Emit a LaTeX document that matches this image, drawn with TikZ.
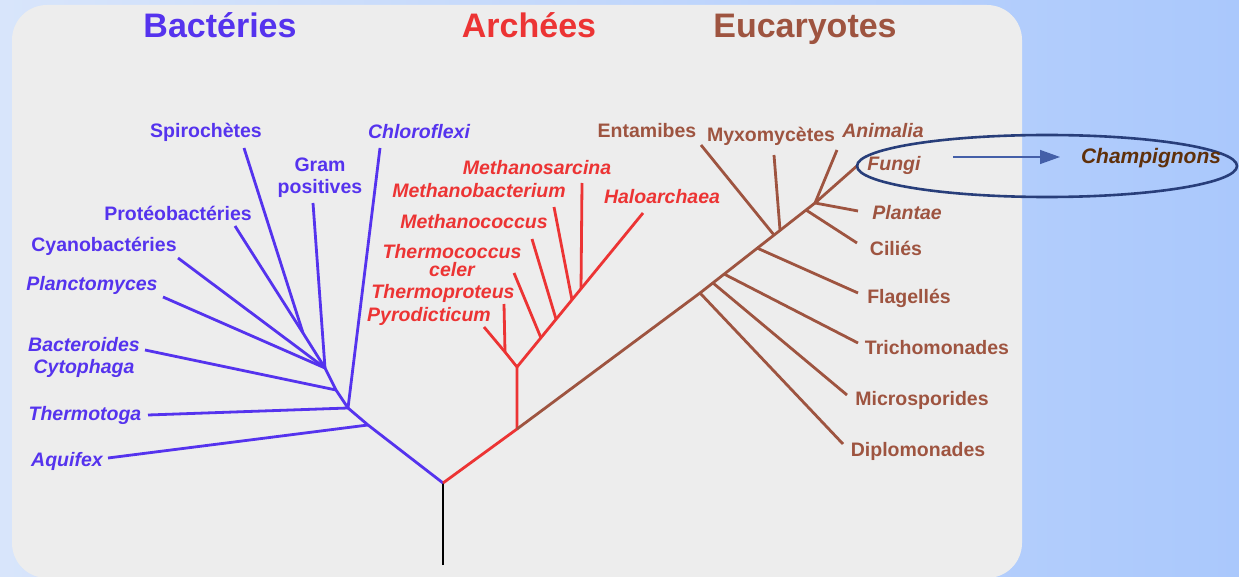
\documentclass[tikz,border=0pt]{standalone}
\usepackage{fontspec}
\setmainfont{Liberation Sans}
\usetikzlibrary{arrows.meta,shapes.geometric}
\definecolor{bactblue}{RGB}{85,51,238}
\definecolor{archred}{RGB}{236,52,52}
\definecolor{eucabrown}{RGB}{158,84,64}
\definecolor{panelgray}{RGB}{237,237,237}
\definecolor{bgleft}{RGB}{216,229,251}
\definecolor{bgright}{RGB}{170,200,252}
\definecolor{ringblue}{RGB}{40,62,122}
\definecolor{arrowblue}{RGB}{68,95,168}
\definecolor{champbrown}{RGB}{95,48,10}
\newcommand\labfont{\fontsize{19.5}{22}\selectfont\bfseries}

\begin{document}
\begin{tikzpicture}[x=1pt,y=-1pt,
  bactline/.style={draw=bactblue,line width=2.8pt},
  archline/.style={draw=archred,line width=2.8pt},
  eucaline/.style={draw=eucabrown,line width=2.8pt},
  lab/.style={font=\labfont,inner sep=0pt,align=center},
  itlab/.style={lab,font=\labfont\itshape},
  title/.style={font=\fontsize{34}{36}\selectfont\bfseries,inner sep=0pt,anchor=base}]
\useasboundingbox (0,0) rectangle (1239,577);
\shade[left color=bgleft,right color=bgright] (0,0) rectangle (1239,577);
\path[fill=panelgray,draw=none,rounded corners=35pt] (12,5) rectangle (1022,578);
\node[title,text=bactblue] (title-bact) at (220,38) {Bactéries};
\node[title,text=archred] (title-arch) at (529,38) {Archées};
\node[title,text=eucabrown] (title-euca) at (805,38) {Eucaryotes};
\coordinate (root-0) at (443,565);
\coordinate (root-1) at (443,483);
\draw[line width=2.8pt] (root-0) -- (root-1);
\coordinate (bact-j-0) at (368,425);
\coordinate (bact-j-1) at (348,408);
\coordinate (bact-j-2) at (336,390);
\coordinate (bact-j-3) at (325,368);
\coordinate (bact-j-4) at (303,333);
\coordinate (bact-t-0) at (108,458);
\coordinate (bact-t-1) at (148,415);
\coordinate (bact-t-2) at (380,148);
\coordinate (bact-t-3) at (145,350);
\coordinate (bact-t-4) at (163,297);
\coordinate (bact-t-5) at (178,258);
\coordinate (bact-t-6) at (235,226);
\coordinate (bact-t-7) at (313,203);
\coordinate (bact-t-8) at (244,148);
\draw[bactline] (root-1) -- (bact-j-0) -- (bact-j-1) -- (bact-j-2) -- (bact-j-3) -- (bact-j-4) -- (bact-t-6);
\draw[bactline] (bact-j-0) -- (bact-t-0);
\draw[bactline] (bact-j-1) -- (bact-t-1);
\draw[bactline] (bact-j-1) -- (bact-t-2);
\draw[bactline] (bact-j-2) -- (bact-t-3);
\draw[bactline] (bact-j-3) -- (bact-t-4);
\draw[bactline] (bact-j-3) -- (bact-t-5);
\draw[bactline] (bact-j-3) -- (bact-t-7);
\draw[bactline] (bact-j-4) -- (bact-t-8);
\node[itlab,text=bactblue] (bact-l-0) at (67,461) {Aquifex};
\node[itlab,text=bactblue] (bact-l-1) at (85,415) {Thermotoga};
\node[itlab,text=bactblue] (bact-l-2) at (419,132) {Chloroflexi};
\node[itlab,text=bactblue] (bact-l-3) at (84,357) {Bacteroides\\Cytophaga};
\node[itlab,text=bactblue] (bact-l-4) at (92,285) {Planctomyces};
\node[lab,text=bactblue] (bact-l-5) at (104,246) {Cyanobactéries};
\node[lab,text=bactblue] (bact-l-6) at (178,213) {Protéobactéries};
\node[lab,text=bactblue] (bact-l-7) at (320,178) {Gram\\positives};
\node[lab,text=bactblue] (bact-l-8) at (206,132) {Spirochètes};
\coordinate (arch-j-0) at (517,429);
\coordinate (arch-j-1) at (517,367);
\coordinate (arch-j-2) at (505,352);
\coordinate (arch-j-3) at (541,338);
\coordinate (arch-j-4) at (556,319);
\coordinate (arch-j-5) at (572,300);
\coordinate (arch-j-6) at (581,289);
\coordinate (arch-t-0) at (484,327);
\coordinate (arch-t-1) at (504,304);
\coordinate (arch-t-2) at (514,273);
\coordinate (arch-t-3) at (532,239);
\coordinate (arch-t-4) at (554,207);
\coordinate (arch-t-5) at (582,183);
\coordinate (arch-t-6) at (643,213);
\draw[archline] (root-1) -- (arch-j-0) -- (arch-j-1) -- (arch-j-2) -- (arch-t-0);
\draw[archline] (arch-j-2) -- (arch-t-1);
\draw[archline] (arch-j-1) -- (arch-t-6);
\draw[archline] (arch-j-3) -- (arch-t-2);
\draw[archline] (arch-j-4) -- (arch-t-3);
\draw[archline] (arch-j-5) -- (arch-t-4);
\draw[archline] (arch-j-6) -- (arch-t-5);
\node[itlab,text=archred] (arch-l-0) at (429,316) {Pyrodicticum};
\node[itlab,text=archred] (arch-l-1) at (443,293) {Thermoproteus};
\node[itlab,text=archred,font=\fontsize{19.5}{18}\selectfont\bfseries\itshape] (arch-l-2) at (452,261) {Thermococcus\\celer};
\node[itlab,text=archred] (arch-l-3) at (474,222) {Methanococcus};
\node[itlab,text=archred] (arch-l-4) at (479,191) {Methanobacterium};
\node[itlab,text=archred] (arch-l-5) at (537,168) {Methanosarcina};
\node[itlab,text=archred] (arch-l-6) at (662,197) {Haloarchaea};
\coordinate (euca-j-0) at (700,293);
\coordinate (euca-j-1) at (713,283);
\coordinate (euca-j-2) at (724,274);
\coordinate (euca-j-3) at (757,248);
\coordinate (euca-j-4) at (774,235);
\coordinate (euca-j-5) at (780,230);
\coordinate (euca-j-6) at (806,210);
\coordinate (euca-j-7) at (815,203);
\coordinate (euca-t-0) at (843,444);
\coordinate (euca-t-1) at (847,395);
\coordinate (euca-t-2) at (858,343);
\coordinate (euca-t-3) at (858,293);
\coordinate (euca-t-4) at (701,145);
\coordinate (euca-t-5) at (774,155);
\coordinate (euca-t-6) at (857,243);
\coordinate (euca-t-7) at (858,211);
\coordinate (euca-t-8) at (837,150);
\coordinate (euca-t-9) at (858,165);
\draw[eucaline] (arch-j-0) -- (euca-j-0) -- (euca-j-7) -- (euca-t-9);
\draw[eucaline] (euca-j-0) -- (euca-t-0);
\draw[eucaline] (euca-j-1) -- (euca-t-1);
\draw[eucaline] (euca-j-2) -- (euca-t-2);
\draw[eucaline] (euca-j-3) -- (euca-t-3);
\draw[eucaline] (euca-j-4) -- (euca-t-4);
\draw[eucaline] (euca-j-5) -- (euca-t-5);
\draw[eucaline] (euca-j-6) -- (euca-t-6);
\draw[eucaline] (euca-j-7) -- (euca-t-7);
\draw[eucaline] (euca-j-7) -- (euca-t-8);
\node[lab,text=eucabrown] (euca-l-0) at (918,451) {Diplomonades};
\node[lab,text=eucabrown] (euca-l-1) at (922,400) {Microsporides};
\node[lab,text=eucabrown] (euca-l-2) at (937,348) {Trichomonades};
\node[lab,text=eucabrown] (euca-l-3) at (909,298) {Flagellés};
\node[lab,text=eucabrown] (euca-l-4) at (647,131) {Entamibes};
\node[lab,text=eucabrown] (euca-l-5) at (771,136) {Myxomycètes};
\node[lab,text=eucabrown] (euca-l-6) at (896,248) {Ciliés};
\node[itlab,text=eucabrown] (euca-l-7) at (907,213) {Plantae};
\node[itlab,text=eucabrown] (euca-l-8) at (883,131) {Animalia};
\node[itlab,text=eucabrown] (euca-l-9) at (894,165) {Fungi};
\node[ellipse,draw=ringblue,line width=2.6pt,minimum width=380pt,minimum height=62pt,inner sep=0pt] (fungi-ring) at (1047,166) {};
\node[font=\fontsize{21}{23}\selectfont\bfseries\itshape,text=champbrown,inner sep=0pt] (champ-label) at (1151,158) {Champignons};
\coordinate (arrow-from) at (953,157);
\coordinate (arrow-to) at (1060,157);
\draw[arrowblue,line width=1.3pt,-{Triangle[length=20pt,width=14pt]}] (arrow-from) -- (arrow-to);
\end{tikzpicture}
\end{document}
